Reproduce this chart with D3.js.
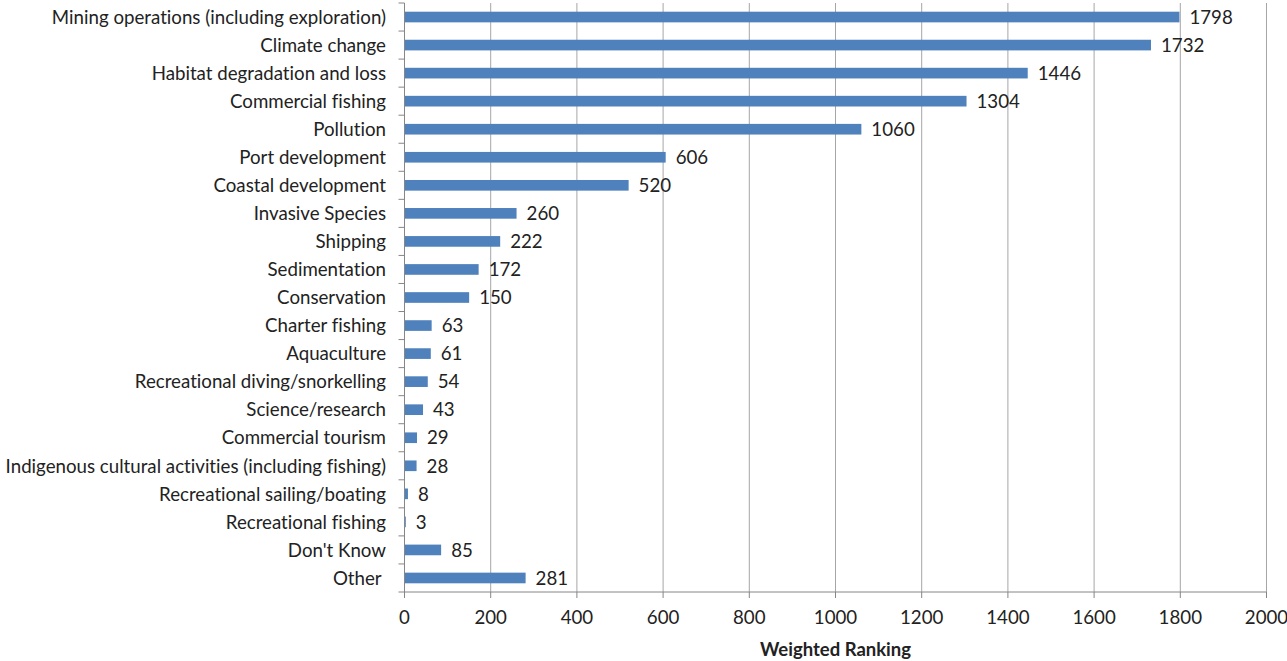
<!DOCTYPE html>
<html>
<head>
<meta charset="utf-8">
<script src="https://cdn.jsdelivr.net/npm/d3@7"></script>
<style>
  body { margin: 0; background: #fff; }
  svg text { font-family: Lato, "Open Sans", sans-serif; fill: #222; font-variant-ligatures: none; }
</style>
</head>
<body>
<svg width="1287" height="661"></svg>
<script>
var categories = [
    "Mining operations (including exploration)",
    "Climate change",
    "Habitat degradation and loss",
    "Commercial fishing",
    "Pollution",
    "Port development",
    "Coastal development",
    "Invasive Species",
    "Shipping",
    "Sedimentation",
    "Conservation",
    "Charter fishing",
    "Aquaculture",
    "Recreational diving/snorkelling",
    "Science/research",
    "Commercial tourism",
    "Indigenous cultural activities (including fishing)",
    "Recreational sailing/boating",
    "Recreational fishing",
    "Don't Know",
    "Other "
];
var values = [1798, 1732, 1446, 1304, 1060, 606, 520, 260, 222, 172, 150, 63, 61, 54, 43, 29, 28, 8, 3, 85, 281];
var xTicks = [0, 200, 400, 600, 800, 1000, 1200, 1400, 1600, 1800, 2000];
var axisTitle = "Weighted Ranking";

const svg = d3.select("svg");
const plotLeft = 404.5, plotRight = 1266.5, plotTop = 3, plotBottom = 592;
const fs = "18.7px";

const x = d3.scaleLinear().domain([0, 2000]).range([plotLeft, plotRight]);
const y = d3.scaleBand().domain(categories).range([plotTop, plotBottom]).paddingInner(0.62).paddingOuter(0.31);

// vertical gridlines
svg.append("g")
    .selectAll("line")
    .data(xTicks.slice(1))
    .enter().append("line")
    .attr("x1", d => x(d)).attr("x2", d => x(d))
    .attr("y1", plotTop).attr("y2", plotBottom)
    .attr("stroke", "#a6a6a6")
    .attr("stroke-width", 1);

// bars
svg.append("g")
    .selectAll("rect")
    .data(values)
    .enter().append("rect")
    .attr("x", x(0))
    .attr("y", (d, i) => y(categories[i]))
    .attr("width", d => x(d) - x(0))
    .attr("height", y.bandwidth())
    .attr("fill", "#4f81bd");

// value labels
svg.append("g")
    .selectAll("text")
    .data(values)
    .enter().append("text")
    .attr("x", d => x(d) + 10)
    .attr("y", (d, i) => y(categories[i]) + y.bandwidth() / 2)
    .attr("dy", "0.36em")
    .style("font-size", fs)
    .text(d => d);

// y axis: line + band tick marks
const step = (plotBottom - plotTop) / categories.length;
const ya = svg.append("g").attr("stroke", "#868686").attr("stroke-width", 1);
ya.append("line").attr("x1", plotLeft).attr("x2", plotLeft).attr("y1", plotTop).attr("y2", plotBottom);
ya.selectAll("line.tk")
    .data(d3.range(categories.length + 1))
    .enter().append("line")
    .attr("class", "tk")
    .attr("x1", plotLeft - 6).attr("x2", plotLeft)
    .attr("y1", i => plotTop + i * step).attr("y2", i => plotTop + i * step);

// category labels
svg.append("g")
    .selectAll("text")
    .data(categories)
    .enter().append("text")
    .attr("x", 386)
    .attr("y", d => y(d) + y.bandwidth() / 2)
    .attr("dy", "0.36em")
    .attr("text-anchor", "end")
    .style("font-size", fs)
    .style("white-space", "pre")
    .text(d => d);

// x axis
const xa = svg.append("g").attr("stroke", "#868686").attr("stroke-width", 1);
xa.append("line").attr("x1", plotLeft).attr("x2", plotRight).attr("y1", plotBottom).attr("y2", plotBottom);
xa.selectAll("line.tk")
    .data(xTicks)
    .enter().append("line")
    .attr("class", "tk")
    .attr("x1", d => x(d)).attr("x2", d => x(d))
    .attr("y1", plotBottom).attr("y2", plotBottom + 6);

svg.append("g")
    .selectAll("text")
    .data(xTicks)
    .enter().append("text")
    .attr("x", d => x(d))
    .attr("y", 617)
    .attr("dy", "0.36em")
    .attr("text-anchor", "middle")
    .style("font-size", fs)
    .text(d => d);

svg.append("text")
    .attr("x", (plotLeft + plotRight) / 2)
    .attr("y", 649)
    .attr("dy", "0.36em")
    .attr("text-anchor", "middle")
    .style("font-size", "18.5px")
    .style("font-weight", "bold")
    .text(axisTitle);
</script>
</body>
</html>
